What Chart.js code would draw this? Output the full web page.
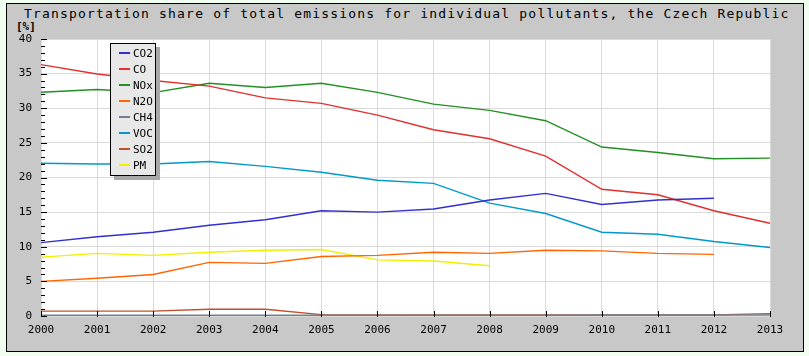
<!DOCTYPE html>
<html>
<head>
<meta charset="utf-8">
<script src="https://cdn.jsdelivr.net/npm/chart.js@4/dist/chart.umd.min.js"></script>
<style>
  body { margin: 0; background: #f0fff0; width: 809px; height: 356px; overflow: hidden; position: relative; font-family: "DejaVu Sans Mono", monospace; }
  #panel { position: absolute; left: 6px; top: 3px; width: 796px; height: 347px; background: #c8c8c8; border: 1px solid #000; }
  #title { position: absolute; left: 24px; top: 6px; font-size: 13px; letter-spacing: 1.18px; color: #000; white-space: nowrap; }
  #unit { position: absolute; left: 16px; top: 20px; font-size: 11px; font-weight: bold; color: #000; }
  #chart-wrap { position: absolute; left: 0; top: 0; width: 809px; height: 356px; }
  #legend { position: absolute; left: 110px; top: 43px; width: 44px; height: 131px; background: #e8e8e8; border: 1px solid #000; box-shadow: 4px 4px 0 #a8a8a8; }
  .item { position: absolute; left: 8px; height: 16px; font-size: 11px; line-height: 16px; color: #000; white-space: nowrap; }
  .item span { display: inline-block; width: 11px; height: 2px; vertical-align: middle; margin-right: 3px; position: relative; top: -1px; }
</style>
</head>
<body>
<div id="panel"></div>
<div id="title">Transportation share of total emissions for individual pollutants, the Czech Republic</div>
<div id="unit">[%]</div>
<div id="chart-wrap"><canvas id="emChart" width="809" height="356"></canvas></div>
<div id="legend"></div>
<script>
const years = ["2000", "2001", "2002", "2003", "2004", "2005", "2006", "2007", "2008", "2009", "2010", "2011", "2012", "2013"];

const co2 = [10.6, 11.45, 12.1, 13.1, 13.9, 15.2, 15.0, 15.45, 16.75, 17.7, 16.1, 16.75, 17.0, null];
const co = [36.3, 34.95, 34.0, 33.2, 31.5, 30.7, 29.0, 26.9, 25.6, 23.1, 18.3, 17.5, 15.2, 13.4];
const nox = [32.3, 32.7, 32.25, 33.6, 33.0, 33.6, 32.3, 30.6, 29.7, 28.2, 24.4, 23.6, 22.7, 22.8];
const n2o = [5.0, 5.45, 6.0, 7.75, 7.6, 8.6, 8.75, 9.2, 9.05, 9.5, 9.4, 9.05, 8.9, null];
const ch4 = [0.1, 0.1, 0.1, 0.1, 0.1, 0.1, 0.1, 0.1, 0.1, 0.1, 0.15, 0.15, 0.15, 0.15];
const voc = [22.05, 21.95, 21.95, 22.3, 21.6, 20.75, 19.6, 19.15, 16.3, 14.8, 12.1, 11.8, 10.75, 9.9];
const so2 = [0.7, 0.7, 0.7, 0.97, 0.97, 0.2, 0.15, 0.15, 0.15, 0.15, 0.15, 0.15, 0.15, 0.35];
const pm = [8.5, 9.05, 8.75, 9.2, 9.5, 9.6, 8.1, 7.95, 7.25, null, null, null, null, null];

const series = [
  { label: "CO2", data: co2, color: "#3030d0" },
  { label: "CO", data: co, color: "#e03030" },
  { label: "NOx", data: nox, color: "#229022" },
  { label: "N2O", data: n2o, color: "#ff6600" },
  { label: "CH4", data: ch4, color: "#708090" },
  { label: "VOC", data: voc, color: "#0099cc" },
  { label: "SO2", data: so2, color: "#c0502a" },
  { label: "PM", data: pm, color: "#f0f000" },
];

// white plot area on the gray panel
const plotBg = {
  id: "plotBg",
  beforeDraw(chart) {
    const a = chart.chartArea;
    chart.ctx.save();
    chart.ctx.fillStyle = "#fff";
    chart.ctx.fillRect(a.left, a.top, a.right - a.left, a.bottom - a.top);
    chart.ctx.restore();
  },
};

// tick marks drawn inside the plot, like the original
const innerTicks = {
  id: "innerTicks",
  afterDatasetsDraw(chart) {
    const c = chart.ctx;
    const x = chart.scales.x;
    const y = chart.scales.y;
    const left = chart.chartArea.left;
    const bottom = chart.chartArea.bottom;
    c.save();
    c.strokeStyle = "#000";
    c.lineWidth = 1;
    c.beginPath();
    for (let v = 0; v <= 40; v++) {
      const py = Math.round(y.getPixelForValue(v)) + 0.5;
      const len = v % 5 === 0 ? 6 : 4;
      c.moveTo(left, py);
      c.lineTo(left + len, py);
    }
    years.forEach((yr, i) => {
      const px = Math.round(x.getPixelForValue(i)) + 0.5;
      c.moveTo(px, bottom + 1);
      c.lineTo(px, bottom - 5);
    });
    c.moveTo(left + 0.5, bottom - 5);
    c.lineTo(left + 0.5, bottom + 1);
    c.stroke();
    c.restore();
  },
};

const chart = new Chart(document.getElementById("emChart"), {
  type: "line",
  data: {
    labels: years,
    datasets: series.map((s) => ({
      label: s.label,
      data: s.data,
      borderColor: s.color,
      backgroundColor: s.color,
      borderWidth: 1.4,
      pointRadius: 0,
      tension: 0,
      fill: false,
    })),
  },
  options: {
    responsive: false,
    animation: false,
    layout: { padding: { top: 39, right: 39, left: 0, bottom: 0 } },
    plugins: { legend: { display: false }, title: { display: false }, tooltip: { enabled: false } },
    scales: {
      x: {
        offset: false,
        afterFit(s) { s.height = 40; },
        grid: { color: "#dadada", drawTicks: false },
        border: { display: false },
        ticks: { color: "#000", font: { family: "DejaVu Sans Mono", size: 11 }, padding: 8, maxRotation: 0, autoSkip: false },
      },
      y: {
        min: 0,
        max: 40,
        afterFit(s) { s.width = 41; },
        grid: { color: "#dadada", drawTicks: false },
        border: { display: false },
        ticks: { stepSize: 5, color: "#000", font: { family: "DejaVu Sans Mono", size: 11 }, padding: 9 },
      },
    },
  },
  plugins: [plotBg, innerTicks],
});

// legend built from the chart's datasets
const legendBox = document.getElementById("legend");
chart.data.datasets.forEach((ds, i) => {
  const row = document.createElement("div");
  row.className = "item";
  row.style.top = (2 + i * 16) + "px";
  row.innerHTML = `<span style="background:${ds.borderColor}"></span>${ds.label}`;
  legendBox.appendChild(row);
});
</script>
</body>
</html>
